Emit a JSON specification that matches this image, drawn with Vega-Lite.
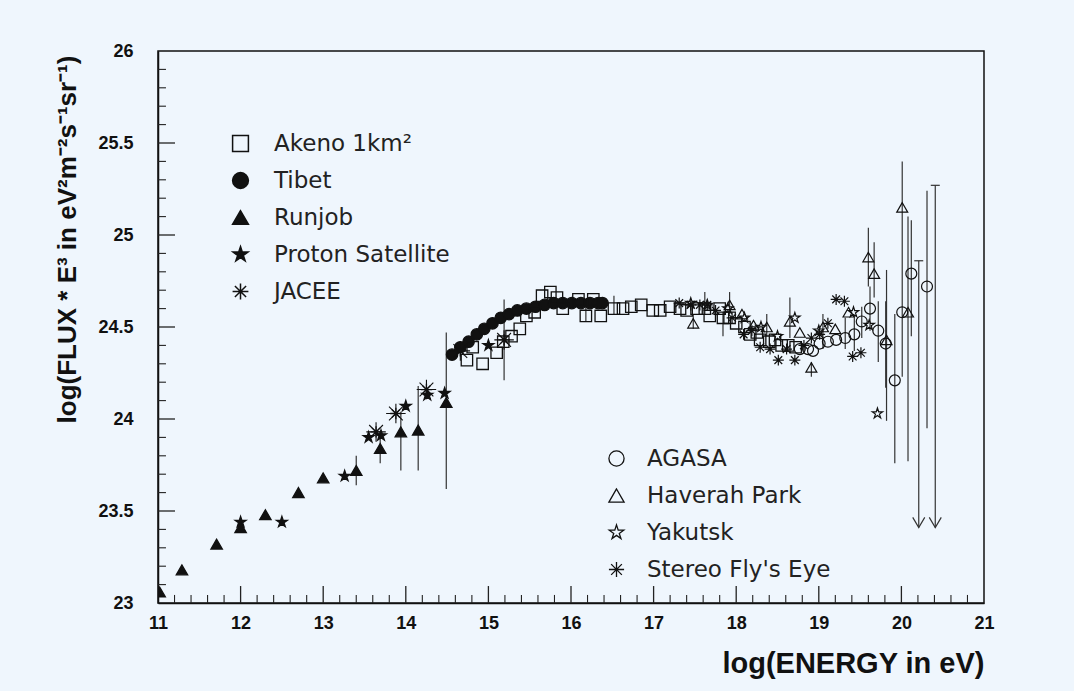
{
  "$schema": "https://vega.github.io/schema/vega-lite/v6.json",
  "width": 826,
  "height": 552,
  "autosize": {"type": "none"},
  "padding": {"left": 158, "top": 51, "right": 90, "bottom": 88},
  "background": "#eff6fd",
  "datasets": {
    "pts": [
      {"exp": "Runjob", "e": 11.02, "f": 23.06},
      {"exp": "Runjob", "e": 11.29, "f": 23.18},
      {"exp": "Runjob", "e": 11.71, "f": 23.32},
      {"exp": "Runjob", "e": 12.0, "f": 23.41},
      {"exp": "Runjob", "e": 12.3, "f": 23.48},
      {"exp": "Runjob", "e": 12.7, "f": 23.6},
      {"exp": "Runjob", "e": 13.0, "f": 23.68},
      {"exp": "Runjob", "e": 13.4, "f": 23.72, "lo": 23.64, "hi": 23.8},
      {"exp": "Runjob", "e": 13.69, "f": 23.84, "lo": 23.76, "hi": 23.92},
      {"exp": "Runjob", "e": 13.94, "f": 23.93, "lo": 23.72, "hi": 24.04},
      {"exp": "Runjob", "e": 14.15, "f": 23.94, "lo": 23.72, "hi": 24.18},
      {"exp": "Runjob", "e": 14.49, "f": 24.09, "lo": 23.62, "hi": 24.47},
      {"exp": "Proton Satellite", "e": 12.0, "f": 23.44},
      {"exp": "Proton Satellite", "e": 12.5, "f": 23.44},
      {"exp": "Proton Satellite", "e": 13.26, "f": 23.69},
      {"exp": "Proton Satellite", "e": 13.55, "f": 23.9},
      {"exp": "Proton Satellite", "e": 13.7, "f": 23.91},
      {"exp": "Proton Satellite", "e": 14.0, "f": 24.07},
      {"exp": "Proton Satellite", "e": 14.26, "f": 24.13},
      {"exp": "Proton Satellite", "e": 14.47, "f": 24.14},
      {"exp": "Proton Satellite", "e": 15.0, "f": 24.4},
      {"exp": "JACEE", "e": 13.64, "f": 23.93},
      {"exp": "JACEE", "e": 13.88, "f": 24.03},
      {"exp": "JACEE", "e": 14.25, "f": 24.16},
      {"exp": "JACEE", "e": 14.66, "f": 24.37},
      {"exp": "JACEE", "e": 15.19, "f": 24.43, "lo": 24.21, "hi": 24.65},
      {"exp": "Tibet", "e": 14.56, "f": 24.35},
      {"exp": "Tibet", "e": 14.66, "f": 24.39},
      {"exp": "Tibet", "e": 14.76, "f": 24.42},
      {"exp": "Tibet", "e": 14.86, "f": 24.46},
      {"exp": "Tibet", "e": 14.95, "f": 24.49},
      {"exp": "Tibet", "e": 15.05, "f": 24.52},
      {"exp": "Tibet", "e": 15.15, "f": 24.55},
      {"exp": "Tibet", "e": 15.25, "f": 24.57},
      {"exp": "Tibet", "e": 15.35, "f": 24.59},
      {"exp": "Tibet", "e": 15.46, "f": 24.6},
      {"exp": "Tibet", "e": 15.57, "f": 24.61},
      {"exp": "Tibet", "e": 15.68, "f": 24.62},
      {"exp": "Tibet", "e": 15.79, "f": 24.63},
      {"exp": "Tibet", "e": 15.9, "f": 24.63},
      {"exp": "Tibet", "e": 16.01, "f": 24.63},
      {"exp": "Tibet", "e": 16.12, "f": 24.63},
      {"exp": "Tibet", "e": 16.23, "f": 24.63},
      {"exp": "Tibet", "e": 16.33, "f": 24.63},
      {"exp": "Tibet", "e": 16.38, "f": 24.63},
      {"exp": "Akeno 1km²", "e": 14.74, "f": 24.32},
      {"exp": "Akeno 1km²", "e": 14.81, "f": 24.39},
      {"exp": "Akeno 1km²", "e": 14.93, "f": 24.3},
      {"exp": "Akeno 1km²", "e": 15.1, "f": 24.36},
      {"exp": "Akeno 1km²", "e": 15.18, "f": 24.42},
      {"exp": "Akeno 1km²", "e": 15.28, "f": 24.45},
      {"exp": "Akeno 1km²", "e": 15.38, "f": 24.49},
      {"exp": "Akeno 1km²", "e": 15.46, "f": 24.56},
      {"exp": "Akeno 1km²", "e": 15.56, "f": 24.58},
      {"exp": "Akeno 1km²", "e": 15.65, "f": 24.67},
      {"exp": "Akeno 1km²", "e": 15.75, "f": 24.69},
      {"exp": "Akeno 1km²", "e": 15.83, "f": 24.66},
      {"exp": "Akeno 1km²", "e": 15.9, "f": 24.6},
      {"exp": "Akeno 1km²", "e": 16.09, "f": 24.65},
      {"exp": "Akeno 1km²", "e": 16.18, "f": 24.56, "lo": 24.53, "hi": 24.63},
      {"exp": "Akeno 1km²", "e": 16.27, "f": 24.65},
      {"exp": "Akeno 1km²", "e": 16.36, "f": 24.56},
      {"exp": "Akeno 1km²", "e": 16.52, "f": 24.6, "lo": 24.57, "hi": 24.67},
      {"exp": "Akeno 1km²", "e": 16.63, "f": 24.6},
      {"exp": "Akeno 1km²", "e": 16.73, "f": 24.61},
      {"exp": "Akeno 1km²", "e": 16.85, "f": 24.62},
      {"exp": "Akeno 1km²", "e": 16.99, "f": 24.59},
      {"exp": "Akeno 1km²", "e": 17.08, "f": 24.59},
      {"exp": "Akeno 1km²", "e": 17.2, "f": 24.61},
      {"exp": "Akeno 1km²", "e": 17.32, "f": 24.6},
      {"exp": "Akeno 1km²", "e": 17.4, "f": 24.59},
      {"exp": "Akeno 1km²", "e": 17.52, "f": 24.6},
      {"exp": "Akeno 1km²", "e": 17.62, "f": 24.6, "lo": 24.57, "hi": 24.69},
      {"exp": "Akeno 1km²", "e": 17.68, "f": 24.56},
      {"exp": "Akeno 1km²", "e": 17.8, "f": 24.6},
      {"exp": "Akeno 1km²", "e": 17.84, "f": 24.55, "lo": 24.45, "hi": 24.58},
      {"exp": "Akeno 1km²", "e": 17.92, "f": 24.55},
      {"exp": "Akeno 1km²", "e": 18.0, "f": 24.52},
      {"exp": "Akeno 1km²", "e": 18.1, "f": 24.5},
      {"exp": "Akeno 1km²", "e": 18.17, "f": 24.46},
      {"exp": "Akeno 1km²", "e": 18.25, "f": 24.47},
      {"exp": "Akeno 1km²", "e": 18.29, "f": 24.43},
      {"exp": "Akeno 1km²", "e": 18.4, "f": 24.42},
      {"exp": "Akeno 1km²", "e": 18.47, "f": 24.43},
      {"exp": "Akeno 1km²", "e": 18.55, "f": 24.4},
      {"exp": "Akeno 1km²", "e": 18.63, "f": 24.4},
      {"exp": "Akeno 1km²", "e": 18.72, "f": 24.39},
      {"exp": "Haverah Park", "e": 17.48, "f": 24.52, "lo": 24.49, "hi": 24.57},
      {"exp": "Haverah Park", "e": 17.92, "f": 24.62, "lo": 24.57, "hi": 24.69},
      {"exp": "Haverah Park", "e": 18.07, "f": 24.57},
      {"exp": "Haverah Park", "e": 18.21, "f": 24.51},
      {"exp": "Haverah Park", "e": 18.37, "f": 24.5, "lo": 24.45, "hi": 24.57},
      {"exp": "Haverah Park", "e": 18.65, "f": 24.53, "lo": 24.44, "hi": 24.66},
      {"exp": "Haverah Park", "e": 18.77, "f": 24.47},
      {"exp": "Haverah Park", "e": 18.91, "f": 24.28, "lo": 24.23, "hi": 24.31},
      {"exp": "Haverah Park", "e": 19.05, "f": 24.5, "lo": 24.38, "hi": 24.57},
      {"exp": "Haverah Park", "e": 19.2, "f": 24.49},
      {"exp": "Haverah Park", "e": 19.36, "f": 24.58},
      {"exp": "Haverah Park", "e": 19.6, "f": 24.88, "lo": 24.72, "hi": 25.04},
      {"exp": "Haverah Park", "e": 19.67, "f": 24.79, "lo": 24.66, "hi": 24.96},
      {"exp": "Haverah Park", "e": 19.82, "f": 24.43, "lo": 23.99, "hi": 24.81},
      {"exp": "Haverah Park", "e": 20.01, "f": 25.15, "lo": 24.23, "hi": 25.4},
      {"exp": "Haverah Park", "e": 20.08, "f": 24.58, "lo": 23.77, "hi": 25.1},
      {"exp": "AGASA", "e": 18.77, "f": 24.38},
      {"exp": "AGASA", "e": 18.87, "f": 24.38},
      {"exp": "AGASA", "e": 18.93, "f": 24.37},
      {"exp": "AGASA", "e": 19.01, "f": 24.41},
      {"exp": "AGASA", "e": 19.11, "f": 24.42},
      {"exp": "AGASA", "e": 19.21, "f": 24.43},
      {"exp": "AGASA", "e": 19.32, "f": 24.44, "lo": 24.38, "hi": 24.55},
      {"exp": "AGASA", "e": 19.43, "f": 24.46, "lo": 24.37, "hi": 24.56},
      {"exp": "AGASA", "e": 19.52, "f": 24.53, "lo": 24.44, "hi": 24.61},
      {"exp": "AGASA", "e": 19.62, "f": 24.6, "lo": 24.48, "hi": 24.72},
      {"exp": "AGASA", "e": 19.72, "f": 24.48, "lo": 24.31, "hi": 24.64},
      {"exp": "AGASA", "e": 19.81, "f": 24.41, "lo": 24.17, "hi": 24.64},
      {"exp": "AGASA", "e": 19.92, "f": 24.21, "lo": 23.76, "hi": 24.57},
      {"exp": "AGASA", "e": 20.01, "f": 24.58},
      {"exp": "AGASA", "e": 20.12, "f": 24.79, "lo": 24.45, "hi": 25.08},
      {"exp": "AGASA", "e": 20.31, "f": 24.72, "lo": 23.95, "hi": 25.24},
      {"exp": "Yakutsk", "e": 17.45, "f": 24.63},
      {"exp": "Yakutsk", "e": 17.65, "f": 24.62},
      {"exp": "Yakutsk", "e": 17.9, "f": 24.6},
      {"exp": "Yakutsk", "e": 18.1, "f": 24.55},
      {"exp": "Yakutsk", "e": 18.3, "f": 24.5},
      {"exp": "Yakutsk", "e": 18.5, "f": 24.45},
      {"exp": "Yakutsk", "e": 18.71, "f": 24.55},
      {"exp": "Yakutsk", "e": 19.0, "f": 24.48},
      {"exp": "Yakutsk", "e": 19.42, "f": 24.58},
      {"exp": "Yakutsk", "e": 19.61, "f": 24.51},
      {"exp": "Yakutsk", "e": 19.71, "f": 24.03},
      {"exp": "Stereo Fly's Eye", "e": 17.31, "f": 24.63},
      {"exp": "Stereo Fly's Eye", "e": 17.45, "f": 24.62},
      {"exp": "Stereo Fly's Eye", "e": 17.56, "f": 24.62},
      {"exp": "Stereo Fly's Eye", "e": 17.65, "f": 24.62},
      {"exp": "Stereo Fly's Eye", "e": 17.75, "f": 24.59},
      {"exp": "Stereo Fly's Eye", "e": 17.95, "f": 24.55},
      {"exp": "Stereo Fly's Eye", "e": 18.09, "f": 24.46},
      {"exp": "Stereo Fly's Eye", "e": 18.19, "f": 24.48},
      {"exp": "Stereo Fly's Eye", "e": 18.29, "f": 24.39},
      {"exp": "Stereo Fly's Eye", "e": 18.41, "f": 24.38},
      {"exp": "Stereo Fly's Eye", "e": 18.51, "f": 24.32},
      {"exp": "Stereo Fly's Eye", "e": 18.61, "f": 24.38},
      {"exp": "Stereo Fly's Eye", "e": 18.71, "f": 24.32},
      {"exp": "Stereo Fly's Eye", "e": 18.82, "f": 24.4},
      {"exp": "Stereo Fly's Eye", "e": 18.91, "f": 24.44},
      {"exp": "Stereo Fly's Eye", "e": 19.01, "f": 24.46},
      {"exp": "Stereo Fly's Eye", "e": 19.11, "f": 24.52},
      {"exp": "Stereo Fly's Eye", "e": 19.21, "f": 24.65},
      {"exp": "Stereo Fly's Eye", "e": 19.31, "f": 24.64},
      {"exp": "Stereo Fly's Eye", "e": 19.41, "f": 24.34},
      {"exp": "Stereo Fly's Eye", "e": 19.51, "f": 24.36}
    ],
    "limits": [
      {"e": 20.21, "lo": 23.41, "hi": 24.86},
      {"e": 20.41, "lo": 23.41, "hi": 25.27}
    ],
    "xmajor": [{"v": 12}, {"v": 13}, {"v": 14}, {"v": 15}, {"v": 16}, {"v": 17}, {"v": 18}, {"v": 19}, {"v": 20}],
    "xminor": [
      {"v": 11.2}, {"v": 11.4}, {"v": 11.6}, {"v": 11.8}, {"v": 12.2}, {"v": 12.4}, {"v": 12.6}, {"v": 12.8},
      {"v": 13.2}, {"v": 13.4}, {"v": 13.6}, {"v": 13.8}, {"v": 14.2}, {"v": 14.4}, {"v": 14.6}, {"v": 14.8},
      {"v": 15.2}, {"v": 15.4}, {"v": 15.6}, {"v": 15.8}, {"v": 16.2}, {"v": 16.4}, {"v": 16.6}, {"v": 16.8},
      {"v": 17.2}, {"v": 17.4}, {"v": 17.6}, {"v": 17.8}, {"v": 18.2}, {"v": 18.4}, {"v": 18.6}, {"v": 18.8},
      {"v": 19.2}, {"v": 19.4}, {"v": 19.6}, {"v": 19.8}, {"v": 20.2}, {"v": 20.4}, {"v": 20.6}, {"v": 20.8}
    ],
    "ymajor": [{"v": 23.5}, {"v": 24}, {"v": 24.5}, {"v": 25}, {"v": 25.5}],
    "yminor": [
      {"v": 23.1}, {"v": 23.2}, {"v": 23.3}, {"v": 23.4}, {"v": 23.6}, {"v": 23.7}, {"v": 23.8}, {"v": 23.9},
      {"v": 24.1}, {"v": 24.2}, {"v": 24.3}, {"v": 24.4}, {"v": 24.6}, {"v": 24.7}, {"v": 24.8}, {"v": 24.9},
      {"v": 25.1}, {"v": 25.2}, {"v": 25.3}, {"v": 25.4}, {"v": 25.6}, {"v": 25.7}, {"v": 25.8}, {"v": 25.9}
    ]
  },
  "resolve": {
    "scale": {"shape": "independent", "fill": "independent", "stroke": "independent"}
  },
  "layer": [
    {
      "data": {"name": "pts"},
      "transform": [{"filter": "isValid(datum.lo)"}],
      "mark": {"type": "rule", "color": "#333", "strokeWidth": 1.2},
      "encoding": {
        "x": {
          "field": "e", "type": "quantitative",
          "scale": {"domain": [11, 21], "nice": false, "zero": false},
          "axis": {
            "orient": "bottom", "values": [11, 12, 13, 14, 15, 16, 17, 18, 19, 20, 21], "format": "d",
            "ticks": false, "domainColor": "#111", "domainWidth": 1.5, "grid": false,
            "labelFont": "Liberation Sans", "labelFontWeight": "bold", "labelFontSize": 18, "labelColor": "#111",
            "labelPadding": 11, "labelFlush": false, "labelBaseline": "top",
            "title": "log(ENERGY in eV)", "titleFont": "Liberation Sans Narrow, Liberation Sans", "titleFontSize": 29,
            "titleFontWeight": "bold", "titleColor": "#111", "titleX": 826, "titleY": 69,
            "titleAlign": "right", "titleBaseline": "alphabetic", "titleAnchor": null
          }
        },
        "y": {
          "field": "lo", "type": "quantitative",
          "scale": {"domain": [23, 26], "nice": false, "zero": false},
          "axis": {
            "orient": "left", "values": [23, 23.5, 24, 24.5, 25, 25.5, 26], "format": "~g",
            "ticks": false, "domainColor": "#111", "domainWidth": 1.5, "grid": false,
            "labelFont": "Liberation Sans", "labelFontWeight": "bold", "labelFontSize": 18, "labelColor": "#111",
            "labelPadding": 25, "labelFlush": false, "labelBaseline": "middle",
            "title": "log(FLUX * E³ in eV²m⁻²s⁻¹sr⁻¹)", "titleFont": "Liberation Sans", "titleFontSize": 26,
            "titleFontWeight": "bold", "titleColor": "#111", "titleAngle": 270, "titleX": -83, "titleY": 188,
            "titleAlign": "center", "titleBaseline": "alphabetic", "titleAnchor": null
          }
        },
        "y2": {"field": "hi"}
      }
    },
    {
      "data": {"name": "xmajor"},
      "mark": {"type": "tick", "orient": "vertical", "size": 17, "thickness": 1.3, "color": "#222", "opacity": 1},
      "encoding": {
        "x": {"field": "v", "type": "quantitative"},
        "y": {"datum": 23.046, "type": "quantitative"}
      }
    },
    {
      "data": {"name": "xminor"},
      "mark": {"type": "tick", "orient": "vertical", "size": 8, "thickness": 1.1, "color": "#222", "opacity": 1},
      "encoding": {
        "x": {"field": "v", "type": "quantitative"},
        "y": {"datum": 23.022, "type": "quantitative"}
      }
    },
    {
      "data": {"name": "ymajor"},
      "mark": {"type": "tick", "orient": "horizontal", "size": 17, "thickness": 1.3, "color": "#222", "opacity": 1},
      "encoding": {
        "y": {"field": "v", "type": "quantitative"},
        "x": {"datum": 11.103, "type": "quantitative"}
      }
    },
    {
      "data": {"name": "yminor"},
      "mark": {"type": "tick", "orient": "horizontal", "size": 8, "thickness": 1.1, "color": "#222", "opacity": 1},
      "encoding": {
        "y": {"field": "v", "type": "quantitative"},
        "x": {"datum": 11.048, "type": "quantitative"}
      }
    },
    {
      "data": {"name": "limits"},
      "mark": {"type": "rule", "color": "#333", "strokeWidth": 1.2},
      "encoding": {
        "x": {"field": "e", "type": "quantitative"},
        "y": {"field": "lo", "type": "quantitative"},
        "y2": {"field": "hi"}
      }
    },
    {
      "data": {"name": "limits"},
      "mark": {"type": "tick", "orient": "horizontal", "size": 9, "thickness": 1.2, "color": "#333", "opacity": 1},
      "encoding": {
        "x": {"field": "e", "type": "quantitative"},
        "y": {"field": "hi", "type": "quantitative"}
      }
    },
    {
      "data": {"name": "limits"},
      "mark": {"type": "point", "shape": "M-1,-1.7L0,0L1,-1.7", "size": 144, "filled": false, "stroke": "#333", "strokeWidth": 1.2, "opacity": 1},
      "encoding": {
        "x": {"field": "e", "type": "quantitative"},
        "y": {"field": "lo", "type": "quantitative"}
      }
    },
    {
      "data": {"name": "pts"},
      "transform": [{"filter": {"field": "exp", "oneOf": ["Akeno 1km²", "Tibet", "Runjob", "Proton Satellite", "JACEE"]}}],
      "mark": {"type": "point", "strokeWidth": 1.3, "opacity": 1, "size": 130, "clip": true},
      "encoding": {
        "x": {"field": "e", "type": "quantitative"},
        "y": {"field": "f", "type": "quantitative"},
        "shape": {
          "field": "exp", "type": "nominal",
          "scale": {
            "domain": ["Akeno 1km²", "Tibet", "Runjob", "Proton Satellite", "JACEE"],
            "range": ["square", "circle", "triangle-up", "M0,-1L0.2245,-0.309L0.9511,-0.309L0.3633,0.118L0.5878,0.809L0,0.382L-0.5878,0.809L-0.3633,0.118L-0.9511,-0.309L-0.2245,-0.309Z", "M-1,0L1,0M0,-1L0,1M-0.707,-0.707L0.707,0.707M-0.707,0.707L0.707,-0.707"]
          },
          "legend": {"orient": "none", "legendX": 71, "legendY": 81, "title": null, "symbolSize": 250, "labelFontSize": 23, "labelFont": "DejaVu Sans", "labelColor": "#222", "labelLimit": 0, "rowPadding": 13, "labelOffset": 22, "symbolStrokeWidth": 1.5}
        },
        "fill": {
          "field": "exp", "type": "nominal",
          "scale": {
            "domain": ["Akeno 1km²", "Tibet", "Runjob", "Proton Satellite", "JACEE"],
            "range": ["transparent", "#111", "#111", "#111", "transparent"]
          },
          "legend": {"orient": "none", "legendX": 71, "legendY": 81, "title": null, "symbolSize": 250, "labelFontSize": 23, "labelFont": "DejaVu Sans", "labelColor": "#222", "labelLimit": 0, "rowPadding": 13, "labelOffset": 22, "symbolStrokeWidth": 1.5}
        },
        "stroke": {
          "field": "exp", "type": "nominal",
          "scale": {
            "domain": ["Akeno 1km²", "Tibet", "Runjob", "Proton Satellite", "JACEE"],
            "range": ["#111", "#111", "#111", "#111", "#111"]
          },
          "legend": {"orient": "none", "legendX": 71, "legendY": 81, "title": null, "symbolSize": 250, "labelFontSize": 23, "labelFont": "DejaVu Sans", "labelColor": "#222", "labelLimit": 0, "rowPadding": 13, "labelOffset": 22, "symbolStrokeWidth": 1.5}
        }
      }
    },
    {
      "data": {"name": "pts"},
      "transform": [{"filter": {"field": "exp", "equal": "JACEE"}}],
      "mark": {"type": "point", "shape": "M-1,0L1,0M0,-1L0,1M-0.707,-0.707L0.707,0.707M-0.707,0.707L0.707,-0.707", "size": 380, "filled": false, "stroke": "#111", "strokeWidth": 1.1, "opacity": 1},
      "encoding": {
        "x": {"field": "e", "type": "quantitative"},
        "y": {"field": "f", "type": "quantitative"}
      }
    },
    {
      "data": {"name": "pts"},
      "transform": [{"filter": {"field": "exp", "oneOf": ["AGASA", "Haverah Park", "Yakutsk", "Stereo Fly's Eye"]}}],
      "mark": {"type": "point", "strokeWidth": 1.2, "opacity": 1, "size": 120, "clip": true},
      "encoding": {
        "x": {"field": "e", "type": "quantitative"},
        "y": {"field": "f", "type": "quantitative"},
        "shape": {
          "field": "exp", "type": "nominal",
          "scale": {
            "domain": ["AGASA", "Haverah Park", "Yakutsk", "Stereo Fly's Eye"],
            "range": ["circle", "triangle-up", "M0,-1L0.2245,-0.309L0.9511,-0.309L0.3633,0.118L0.5878,0.809L0,0.382L-0.5878,0.809L-0.3633,0.118L-0.9511,-0.309L-0.2245,-0.309Z", "M-1,0L1,0M0,-1L0,1M-0.707,-0.707L0.707,0.707M-0.707,0.707L0.707,-0.707"]
          },
          "legend": {"orient": "none", "legendX": 447, "legendY": 396, "title": null, "symbolSize": 230, "labelFontSize": 23, "labelFont": "DejaVu Sans", "labelColor": "#222", "labelLimit": 0, "rowPadding": 13, "labelOffset": 19, "symbolStrokeWidth": 1.3}
        },
        "fill": {
          "field": "exp", "type": "nominal",
          "scale": {
            "domain": ["AGASA", "Haverah Park", "Yakutsk", "Stereo Fly's Eye"],
            "range": ["transparent", "transparent", "transparent", "transparent"]
          },
          "legend": {"orient": "none", "legendX": 447, "legendY": 396, "title": null, "symbolSize": 230, "labelFontSize": 23, "labelFont": "DejaVu Sans", "labelColor": "#222", "labelLimit": 0, "rowPadding": 13, "labelOffset": 19, "symbolStrokeWidth": 1.3}
        },
        "stroke": {
          "field": "exp", "type": "nominal",
          "scale": {
            "domain": ["AGASA", "Haverah Park", "Yakutsk", "Stereo Fly's Eye"],
            "range": ["#111", "#111", "#111", "#111"]
          },
          "legend": {"orient": "none", "legendX": 447, "legendY": 396, "title": null, "symbolSize": 230, "labelFontSize": 23, "labelFont": "DejaVu Sans", "labelColor": "#222", "labelLimit": 0, "rowPadding": 13, "labelOffset": 19, "symbolStrokeWidth": 1.3}
        }
      }
    }
  ],
  "config": {
    "view": {"stroke": "#111", "strokeWidth": 1.5},
    "legend": {"padding": 0}
  }
}
